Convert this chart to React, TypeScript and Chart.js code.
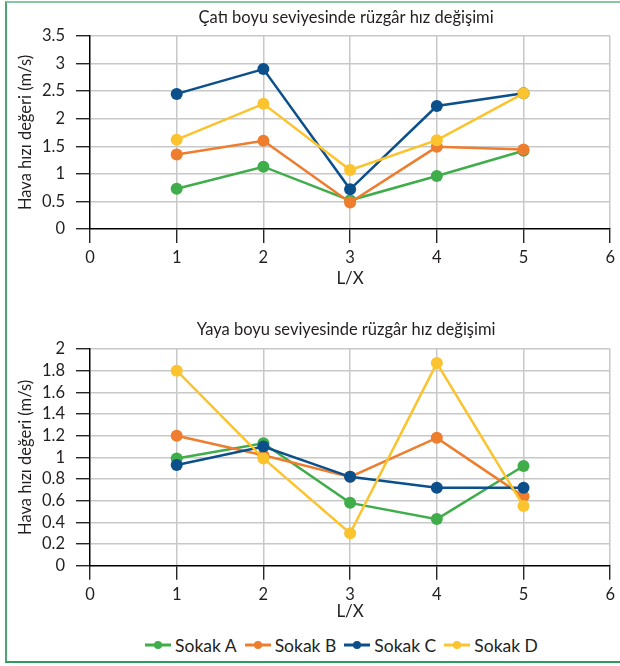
import React, { useEffect, useRef } from 'react';
import { Chart, registerables } from 'chart.js';

Chart.register(...registerables);

const xValues = [1, 2, 3, 4, 5];
const seriesNames = ['Sokak A', 'Sokak B', 'Sokak C', 'Sokak D'];
const seriesColors = ['#3fad4a', '#ee7d2e', '#0b4f8b', '#fbc42f'];

const roofA = [0.73, 1.13, 0.52, 0.96, 1.42];
const roofB = [1.35, 1.6, 0.48, 1.49, 1.44];
const roofC = [2.45, 2.9, 0.72, 2.23, 2.46];
const roofD = [1.62, 2.27, 1.07, 1.61, 2.46];

const pedA = [0.99, 1.13, 0.58, 0.43, 0.92];
const pedB = [1.2, 1.02, 0.82, 1.18, 0.64];
const pedC = [0.93, 1.1, 0.82, 0.72, 0.72];
const pedD = [1.8, 0.99, 0.3, 1.87, 0.55];

const xTicks = [0, 1, 2, 3, 4, 5, 6];
const roofYTicks = [0, 0.5, 1, 1.5, 2, 2.5, 3, 3.5];
const pedYTicks = [0, 0.2, 0.4, 0.6, 0.8, 1, 1.2, 1.4, 1.6, 1.8, 2];

const roofTitle = 'Çatı boyu seviyesinde rüzgâr hız değişimi';
const pedTitle = 'Yaya boyu seviyesinde rüzgâr hız değişimi';
const yAxisTitle = 'Hava hızı değeri (m/s)';
const xAxisTitle = 'L/X';

const FONT = 'Lato, "Open Sans", sans-serif';
const TEXT = '#231f20';

const panelTitle = {
  id: 'panelTitle',
  afterDraw(chart: any, _args: any, opts: any) {
    const { ctx, chartArea } = chart;
    ctx.save();
    ctx.font = `16.5px ${FONT}`;
    ctx.fillStyle = TEXT;
    ctx.textAlign = 'center';
    ctx.textBaseline = 'middle';
    ctx.fillText(opts.text, (chartArea.left + chartArea.right) / 2 - 4, chartArea.top - opts.offset);
    ctx.restore();
  },
};

function buildConfig(series: number[][], yTicks: number[], title: string, titleOffset: number, xScaleHeight: number, xTitlePad: number) {
  const datasets = series.map((vals, i) => ({
    label: seriesNames[i],
    data: vals.map((v, j) => ({ x: xValues[j], y: v })),
    borderColor: seriesColors[i],
    backgroundColor: seriesColors[i],
    pointBackgroundColor: seriesColors[i],
    pointBorderColor: seriesColors[i],
    pointRadius: 6,
    pointBorderWidth: 0,
    borderWidth: 2.5,
    order: series.length - 1 - i,
    tension: 0,
  }));
  const gridColor = (c: any) => (c.tick && c.tick.value === 0 ? 'rgba(0,0,0,0)' : '#c8c8c8');
  return {
    type: 'line' as const,
    data: { datasets },
    plugins: [panelTitle],
    options: {
      responsive: false,
      animation: false as const,
      layout: { padding: { top: 0, left: 0, right: 8, bottom: 0 } },
      plugins: {
        legend: { display: false },
        tooltip: { enabled: false },
        panelTitle: { text: title, offset: titleOffset },
      },
      scales: {
        x: {
          type: 'linear' as const,
          min: xTicks[0],
          max: xTicks[xTicks.length - 1],
          afterBuildTicks: (s: any) => {
            s.ticks = xTicks.map((v) => ({ value: v }));
          },
          afterFit: (s: any) => {
            s.height = xScaleHeight;
          },
          ticks: {
            autoSkip: false,
            padding: 5,
            color: TEXT,
            font: { family: FONT, size: 16.5 },
            callback: (v: any) => String(v),
          },
          grid: { color: gridColor, lineWidth: 1.5, tickColor: '#000', tickLength: 14, tickWidth: 1.2 },
          border: { color: '#000', width: 1.5 },
          title: {
            display: true,
            text: xAxisTitle,
            color: TEXT,
            font: { family: FONT, size: 17 },
            padding: { top: 0, bottom: xTitlePad },
          },
        },
        y: {
          type: 'linear' as const,
          min: yTicks[0],
          max: yTicks[yTicks.length - 1],
          afterBuildTicks: (s: any) => {
            s.ticks = yTicks.map((v) => ({ value: v }));
          },
          afterFit: (s: any) => {
            s.width = 90;
          },
          ticks: {
            autoSkip: false,
            padding: 11,
            color: TEXT,
            font: { family: FONT, size: 16.5 },
            callback: (v: any) => String(Number(Number(v).toFixed(2))),
          },
          grid: { color: gridColor, lineWidth: 1.5, tickColor: '#000', tickLength: 14, tickWidth: 1.2 },
          border: { color: '#000', width: 1.5 },
          title: {
            display: true,
            text: yAxisTitle,
            color: TEXT,
            font: { family: FONT, size: 16.5 },
            padding: { top: 16, bottom: 0 },
          },
        },
      },
    },
  };
}

function LineChart({ top, height, series, yTicks, title, padTop, titleOffset, xScaleHeight, xTitlePad }: any) {
  const ref = useRef<HTMLCanvasElement | null>(null);
  useEffect(() => {
    if (!ref.current) return;
    const cfg: any = buildConfig(series, yTicks, title, titleOffset, xScaleHeight, xTitlePad);
    cfg.options.layout.padding.top = padTop;
    const chart = new Chart(ref.current, cfg);
    return () => chart.destroy();
  }, []);
  return (
    <canvas
      ref={ref}
      width={620}
      height={height}
      style={{ position: 'absolute', left: 0, top, width: 620, height }}
    />
  );
}

function LegendIcon({ color }: { color: string }) {
  return (
    <svg width={26} height={10} style={{ display: 'block' }}>
      <line x1={0} y1={5} x2={26} y2={5} stroke={color} strokeWidth={3} />
      <circle cx={13} cy={5} r={4} fill={color} />
    </svg>
  );
}

export default function App() {
  return (
    <div style={{ position: 'absolute', left: 0, top: 0, width: 620, height: 666, background: '#fff', overflow: 'hidden' }}>
      <div
        style={{
          position: 'absolute',
          left: 5,
          top: 1,
          width: 615,
          height: 662,
          boxSizing: 'border-box',
          borderTop: '2px solid #86c6a0',
          borderLeft: '2px solid #4ea473',
          borderBottom: '2px solid #2f9a5b',
        }}
      />
      <LineChart
        top={0}
        height={300}
        series={[roofA, roofB, roofC, roofD]}
        yTicks={roofYTicks}
        title={roofTitle}
        padTop={36}
        titleOffset={18}
        xScaleHeight={71}
        xTitlePad={11}
      />
      <LineChart
        top={300}
        height={330}
        series={[pedA, pedB, pedC, pedD]}
        yTicks={pedYTicks}
        title={pedTitle}
        padTop={49}
        titleOffset={19}
        xScaleHeight={64.3}
        xTitlePad={8}
      />
      <div
        style={{
          position: 'absolute',
          left: 0,
          top: 634,
          width: 683,
          height: 22,
          display: 'flex',
          justifyContent: 'center',
          alignItems: 'center',
          fontFamily: FONT,
          fontSize: 17.5,
          color: TEXT,
        }}
      >
        {seriesNames.map((name, i) => (
          <div key={name} style={{ display: 'flex', alignItems: 'center', marginRight: i < seriesNames.length - 1 ? 8 : 0 }}>
            <LegendIcon color={seriesColors[i]} />
            <span style={{ marginLeft: 4 }}>{name}</span>
          </div>
        ))}
      </div>
    </div>
  );
}
